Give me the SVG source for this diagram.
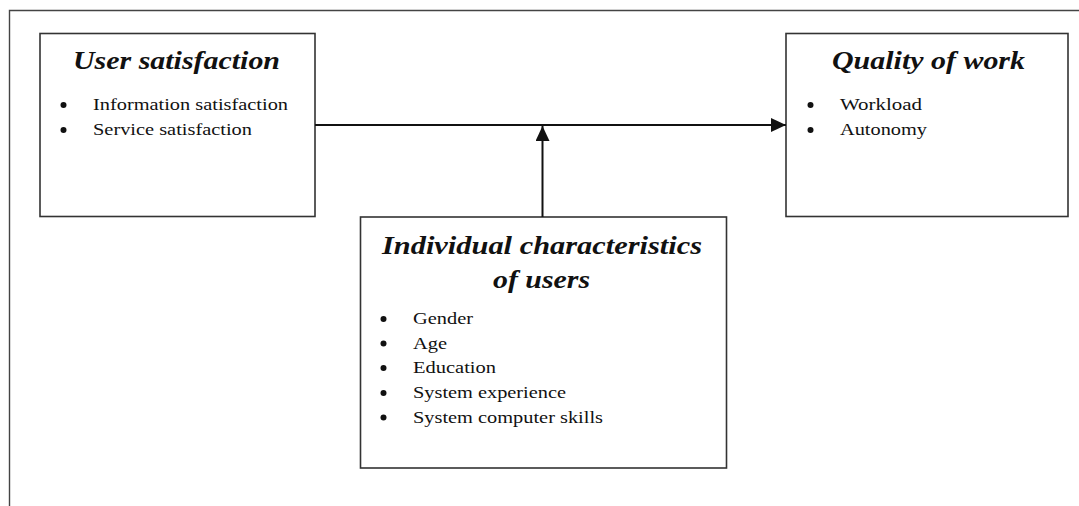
<svg xmlns="http://www.w3.org/2000/svg" width="1079" height="506" viewBox="0 0 1079 506">
<defs>
<style>
.box{fill:#fff;stroke:#333;stroke-width:1.6}
.frame{fill:none;stroke:#444;stroke-width:1.4}
.title{font-family:"Liberation Serif","Times New Roman",serif;font-weight:bold;font-style:italic;font-size:26px;fill:#111}
.item{font-family:"Liberation Serif","Times New Roman",serif;font-size:17.5px;fill:#111}
.bul{fill:#111}
.conn{fill:none;stroke:#111;stroke-width:2}
</style>
<marker id="arrow" markerUnits="userSpaceOnUse" markerWidth="16" markerHeight="14" refX="15" refY="7" orient="auto">
<path d="M0,0 L15,7 L0,14 Z" fill="#111"/>
</marker>
</defs>
<rect width="1079" height="506" fill="#fff"/>
<path class="frame" d="M9.5,506 V10.5 H1079"/>
<g id="user-satisfaction">
<rect class="box" x="40" y="33.5" width="275" height="183"/>
<text class="title" x="73" y="69" textLength="207" lengthAdjust="spacingAndGlyphs">User satisfaction</text>
<circle class="bul" cx="63.5" cy="105" r="3"/>
<text class="item" x="93" y="110" textLength="195" lengthAdjust="spacingAndGlyphs">Information satisfaction</text>
<circle class="bul" cx="63.5" cy="130" r="3"/>
<text class="item" x="93" y="135" textLength="159" lengthAdjust="spacingAndGlyphs">Service satisfaction</text>
</g>
<g id="quality-of-work">
<rect class="box" x="786" y="33.5" width="282" height="183"/>
<text class="title" x="832" y="69" textLength="193" lengthAdjust="spacingAndGlyphs">Quality of work</text>
<circle class="bul" cx="810.5" cy="105" r="3"/>
<text class="item" x="840" y="110" textLength="82" lengthAdjust="spacingAndGlyphs">Workload</text>
<circle class="bul" cx="810.5" cy="130" r="3"/>
<text class="item" x="840" y="135" textLength="87" lengthAdjust="spacingAndGlyphs">Autonomy</text>
</g>
<g id="individual-characteristics">
<rect class="box" x="360.5" y="217" width="366" height="251"/>
<text class="title" x="382" y="254" textLength="320" lengthAdjust="spacingAndGlyphs">Individual characteristics</text>
<text class="title" x="493" y="288" textLength="97" lengthAdjust="spacingAndGlyphs">of users</text>
<circle class="bul" cx="383.5" cy="319" r="3"/>
<text class="item" x="413" y="324" textLength="60" lengthAdjust="spacingAndGlyphs">Gender</text>
<circle class="bul" cx="383.5" cy="343.5" r="3"/>
<text class="item" x="413" y="348.5" textLength="34" lengthAdjust="spacingAndGlyphs">Age</text>
<circle class="bul" cx="383.5" cy="368" r="3"/>
<text class="item" x="413" y="373" textLength="83" lengthAdjust="spacingAndGlyphs">Education</text>
<circle class="bul" cx="383.5" cy="393" r="3"/>
<text class="item" x="413" y="398" textLength="153" lengthAdjust="spacingAndGlyphs">System experience</text>
<circle class="bul" cx="383.5" cy="417.5" r="3"/>
<text class="item" x="413" y="422.5" textLength="190" lengthAdjust="spacingAndGlyphs">System computer skills</text>
</g>
<g id="connectors">
<line class="conn" x1="315" y1="125" x2="786" y2="125" marker-end="url(#arrow)"/>
<line class="conn" x1="542.5" y1="217" x2="542.5" y2="126" marker-end="url(#arrow)"/>
</g>
</svg>
